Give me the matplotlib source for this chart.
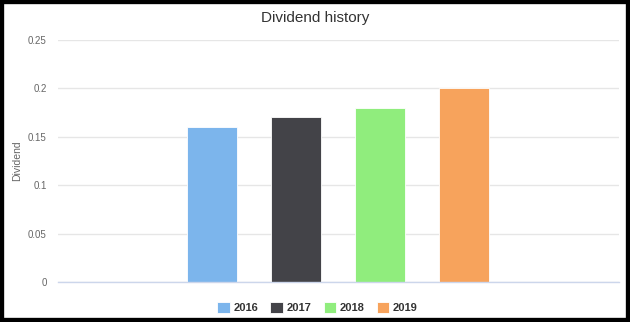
import matplotlib
matplotlib.use("Agg")
import matplotlib.pyplot as plt
from matplotlib.patches import Rectangle

# Dividend per share by year
years = ["2016", "2017", "2018", "2019"]
dividends = [0.16, 0.17, 0.18, 0.20]
colors = ["#7cb5ec", "#434348", "#90ed7d", "#f7a35c"]
y_ticks = [0, 0.05, 0.1, 0.15, 0.2, 0.25]
y_tick_labels = ["0", "0.05", "0.1", "0.15", "0.2", "0.25"]

plt.rcParams["font.family"] = ["Liberation Sans", "DejaVu Sans"]

fig = plt.figure(figsize=(6.3, 3.22), dpi=100)
ax = fig.add_axes([0.092, 0.124, 0.891, 0.752])

positions = list(range(len(years)))
for pos, val, col, yr in zip(positions, dividends, colors, years):
    ax.bar(pos, val, width=0.6, color=col, edgecolor="white", linewidth=0.6,
           label=yr, zorder=3)

ax.set_xlim(-1.83, 4.85)
ax.set_ylim(0, 0.25)
ax.set_yticks(y_ticks)
ax.set_yticklabels(y_tick_labels)
ax.set_xticks([])
ax.grid(axis="y", color="#e6e6e6", linewidth=1, zorder=0)
for s in ["top", "right", "left"]:
    ax.spines[s].set_visible(False)
ax.spines["bottom"].set_color("#ccd6eb")
ax.spines["bottom"].set_linewidth(1)
ax.spines["bottom"].set_zorder(4)
ax.tick_params(axis="y", length=0, labelsize=7, labelcolor="#666666", pad=8)

fig.text(0.027, 0.5, "Dividend", rotation=90, ha="center", va="center",
         fontsize=7.5, color="#666666")

fig.text(0.5, 0.943, "Dividend history", ha="center", va="center",
         fontsize=11, color="#333333")

leg = fig.legend(loc="center", bbox_to_anchor=(0.504, 0.045), ncol=4,
                 frameon=False, handlelength=1.1, handleheight=1.1,
                 handletextpad=0.35, columnspacing=1.1,
                 prop={"size": 8, "weight": "bold"})
for t in leg.get_texts():
    t.set_color("#333333")

# Black frame around the figure
fig.patches.append(Rectangle((0, 0), 1, 1, transform=fig.transFigure,
                             fill=False, edgecolor="black", linewidth=6,
                             zorder=10))

fig.savefig("out.png", dpi=100)
